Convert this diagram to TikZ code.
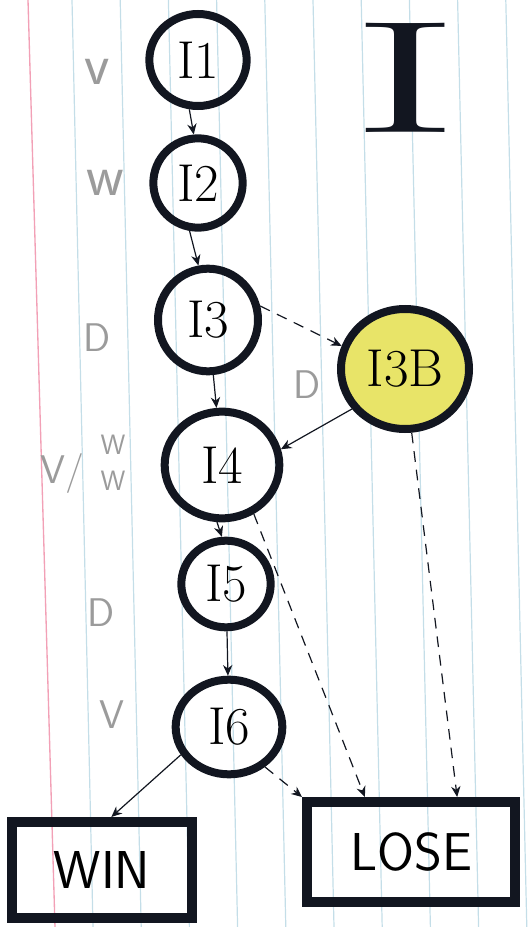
\documentclass[tikz,border=0pt]{standalone}
\usepackage{fontspec}
\usetikzlibrary{arrows.meta,shapes.geometric}
\definecolor{ink}{RGB}{18,22,32}
\definecolor{pencil}{RGB}{155,155,155}
\definecolor{ruling}{RGB}{196,222,232}
\definecolor{margin}{RGB}{242,160,182}
\definecolor{marker}{RGB}{232,228,104}
\tikzset{every picture/.style={line width=0.75pt}}
\tikzset{
  state/.style={ellipse, draw=ink, line width=6pt, outer sep=3pt, inner sep=0pt,
    font=\fontsize{40}{40}\selectfont},
  endbox/.style={rectangle, draw=ink, line width=7.5pt, outer sep=3.75pt, inner sep=0pt,
    font=\sffamily\fontsize{40}{40}\selectfont},
  note/.style={text=pencil, font=\sffamily\fontsize{30}{30}\selectfont, inner sep=0.75pt},
  flow/.style={draw=ink, line width=0.9pt, -{Stealth[length=8pt,width=7pt]}},
  risk/.style={flow, dash pattern=on 8pt off 6pt},
}

\begin{document}
\begin{tikzpicture}[x=0.75pt,y=0.75pt,yscale=-1,xscale=1]
\useasboundingbox (0,0) rectangle (529,927);

% paper rulings
\foreach \k in {0,...,9}
  \draw[ruling, line width=0.9pt] ({72+48.2*\k},0) -- ({93+48.2*\k},927);
\draw[margin, line width=1pt] (28,0) -- (55,927);

% Title
\node[text=ink, inner sep=0pt, font=\fontsize{120}{120}\selectfont, xscale=2.1] (title) at (406,78) {I};

% States
\node[state, minimum width=73pt, minimum height=69pt] (I1) at (198,60) {I1};
\node[state, minimum width=67pt, minimum height=67pt] (I2) at (198,183) {I2};
\node[state, minimum width=75pt, minimum height=77pt] (I3) at (208,320) {I3};
\node[state, fill=marker, minimum width=96pt, minimum height=90pt] (I3B) at (405,369) {I3B};
\node[state, minimum width=86pt, minimum height=80pt] (I4) at (222,465) {I4};
\node[state, minimum width=67pt, minimum height=65pt] (I5) at (226,584) {I5};
\node[state, minimum width=80pt, minimum height=71pt] (I6) at (229,727) {I6};

% Outcomes
\node[endbox, minimum width=135pt, minimum height=72pt] (WIN) at (102,870) {WIN};
\node[endbox, minimum width=156pt, minimum height=75pt] (LOSE) at (411,852) {LOSE};

% Pencil notes
\node[note, font=\sffamily\fontsize{44}{44}\selectfont] (v1) at (97,72) {v};
\node[note, font=\sffamily\fontsize{44}{44}\selectfont] (w2) at (105,183) {w};
\node[note] (d3) at (97,338) {D};
\node[note] (d3b) at (307,385) {D};
\node[note] (vw4) at (62,473) {V/};
\node[note, font=\sffamily\fontsize{21}{27}\selectfont, align=center] (ww4) at (113,463) {W\\W};
\node[note] (d5) at (101,613) {D};
\node[note] (v6) at (112,715) {V};

% Transitions
\draw[flow] (I1.-100) -- (I2.95);
\draw[flow] (I2.-100) -- (I3.100);
\draw[flow] (I3) -- (I4);
\draw[risk] (I3.15) -- (I3B.160);
\draw[flow] (I3B.217) -- (I4.15);
\draw[flow] (I4.-95) -- (I5.95);
\draw[flow] (I5) -- (I6);
\draw[flow] (I6.210) -- (WIN.80);
\draw[risk] (I6.-48) -- (LOSE.north west);
\draw[risk] (I4.-57) -- (LOSE.130);
\draw[risk] (I3B.-84) -- (LOSE.50);

\end{tikzpicture}
\end{document}
